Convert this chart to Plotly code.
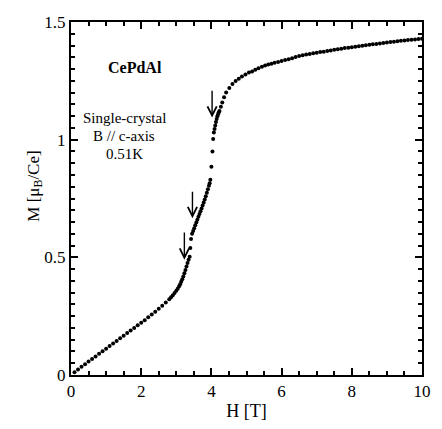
import plotly.graph_objects as go

# Magnetization curve of CePdAl
H = [0.1, 0.2, 0.3, 0.4, 0.5, 0.6, 0.7, 0.8, 0.9, 1.0,
     1.1, 1.2, 1.3, 1.4, 1.5, 1.6, 1.7, 1.8, 1.9, 2.0,
     2.1, 2.2, 2.3, 2.4, 2.5, 2.6, 2.7, 2.8, 2.85, 2.9,
     2.95, 3.0, 3.04, 3.08, 3.11, 3.14, 3.17, 3.2, 3.23, 3.26,
     3.29, 3.32, 3.35, 3.38, 3.40, 3.42, 3.45, 3.48, 3.51, 3.54,
     3.57, 3.60, 3.63, 3.66, 3.69, 3.72, 3.75, 3.78, 3.81, 3.84,
     3.87, 3.90, 3.93, 3.95, 3.97, 4.0, 4.03, 4.05, 4.07, 4.09,
     4.11, 4.13, 4.15, 4.17, 4.19, 4.21, 4.23, 4.27, 4.31, 4.36,
     4.42, 4.51, 4.6, 4.69, 4.78, 4.87, 4.97, 5.07, 5.16, 5.25,
     5.34, 5.44, 5.53, 5.62, 5.71, 5.8, 5.9, 6.0, 6.1, 6.2,
     6.3, 6.4, 6.5, 6.6, 6.7, 6.8, 6.9, 7.0, 7.1, 7.2,
     7.3, 7.4, 7.5, 7.6, 7.7, 7.8, 7.9, 8.0, 8.1, 8.2,
     8.3, 8.4, 8.5, 8.6, 8.7, 8.8, 8.9, 9.0, 9.1, 9.2,
     9.3, 9.4, 9.5, 9.6, 9.7, 9.8, 9.9, 10.0]
M = [0.012, 0.023, 0.035, 0.046, 0.057, 0.068, 0.079, 0.090, 0.101, 0.112,
     0.123, 0.134, 0.145, 0.156, 0.167, 0.178, 0.189, 0.200, 0.211, 0.222,
     0.233, 0.245, 0.257, 0.269, 0.281, 0.294, 0.308, 0.322, 0.330, 0.339,
     0.348, 0.358, 0.367, 0.377, 0.386, 0.396, 0.407, 0.419, 0.432, 0.446,
     0.461, 0.476, 0.490, 0.503, 0.540, 0.578, 0.600, 0.612, 0.624, 0.636,
     0.648, 0.660, 0.672, 0.684, 0.696, 0.708, 0.720, 0.733, 0.746, 0.760,
     0.774, 0.789, 0.804, 0.815, 0.830, 0.885, 0.950, 1.003, 1.030, 1.045,
     1.060, 1.075, 1.088, 1.099, 1.108, 1.116, 1.122, 1.140, 1.158, 1.180,
     1.200, 1.220, 1.237, 1.249, 1.259, 1.268, 1.277, 1.285, 1.290, 1.297,
     1.304, 1.310, 1.315, 1.319, 1.323, 1.327, 1.330, 1.334, 1.338, 1.342,
     1.346, 1.351, 1.356, 1.359, 1.362, 1.364, 1.367, 1.369, 1.372, 1.374,
     1.377, 1.379, 1.382, 1.384, 1.386, 1.389, 1.391, 1.393, 1.395, 1.397,
     1.399, 1.401, 1.403, 1.405, 1.407, 1.409, 1.411, 1.413, 1.415, 1.416,
     1.418, 1.420, 1.421, 1.423, 1.425, 1.426, 1.428, 1.429]

# Arrows marking the transitions: (H, tip M, tail M)
arrow_H = [3.23, 3.46, 4.02]
arrow_tip = [0.49, 0.666, 1.094]
arrow_tail = [0.612, 0.785, 1.214]

x_ticks = [0, 2, 4, 6, 8, 10]
y_ticks = [0, 0.5, 1, 1.5]
y_ticktext = ["0", "0.5", "1", "1.5"]

SERIF = "Liberation Serif, Times New Roman, serif"

fig = go.Figure()
fig.add_trace(go.Scatter(
    x=H, y=M, mode="markers",
    marker=dict(color="black", size=4),
    showlegend=False, hoverinfo="skip"))

for h, t, s in zip(arrow_H, arrow_tip, arrow_tail):
    fig.add_annotation(x=h, y=t, ax=h, ay=s, xref="x", yref="y",
                       axref="x", ayref="y", text="", showarrow=True,
                       arrowhead=5, arrowsize=1.3, arrowwidth=1.4,
                       arrowcolor="black")

fig.add_annotation(x=1.81, y=1.306, xref="x", yref="y", text="<b>CePdAl</b>",
                   showarrow=False, font=dict(family=SERIF, size=16, color="black"))
for txt, yy in zip(["Single-crystal", "B // c-axis", "0.51K"], [1.093, 1.017, 0.937]):
    fig.add_annotation(x=1.51, y=yy, xref="x", yref="y", text=txt,
                       showarrow=False, font=dict(family=SERIF, size=15, color="black"))

fig.add_annotation(x=-0.139, y=0.534, xref="paper", yref="paper",
                   text="M [μ<sub>B</sub>/Ce]", textangle=-90, showarrow=False,
                   font=dict(family=SERIF, size=17, color="black"))

fig.update_xaxes(range=[0, 10], tickvals=x_ticks, ticks="inside", ticklen=7,
                 tickwidth=1.5, tickcolor="black", showline=True, linewidth=2,
                 linecolor="black", mirror="ticks", showgrid=False, zeroline=False,
                 tickfont=dict(family=SERIF, size=17, color="black"),
                 title=dict(text="H [T]", font=dict(family=SERIF, size=18, color="black"),
                            standoff=4),
                 minor=dict(dtick=0.5, ticks="inside", ticklen=4, tickwidth=1.5,
                            tickcolor="black", showgrid=False))
fig.update_yaxes(range=[0, 1.5], tickvals=y_ticks, ticktext=y_ticktext,
                 ticks="inside", ticklen=7, tickwidth=1.5, tickcolor="black",
                 showline=True, linewidth=2, linecolor="black", mirror="ticks",
                 showgrid=False, zeroline=False,
                 tickfont=dict(family=SERIF, size=17, color="black"),
                 minor=dict(dtick=0.05, ticks="inside", ticklen=4, tickwidth=1.5,
                            tickcolor="black", showgrid=False))

fig.update_layout(width=442, height=429,
                  margin=dict(l=71, r=11, t=22, b=51),
                  paper_bgcolor="white", plot_bgcolor="white")

fig.write_html("out.html", config={"displayModeBar": False},
               post_script="document.body.style.margin='0';document.body.style.overflow='hidden';")
